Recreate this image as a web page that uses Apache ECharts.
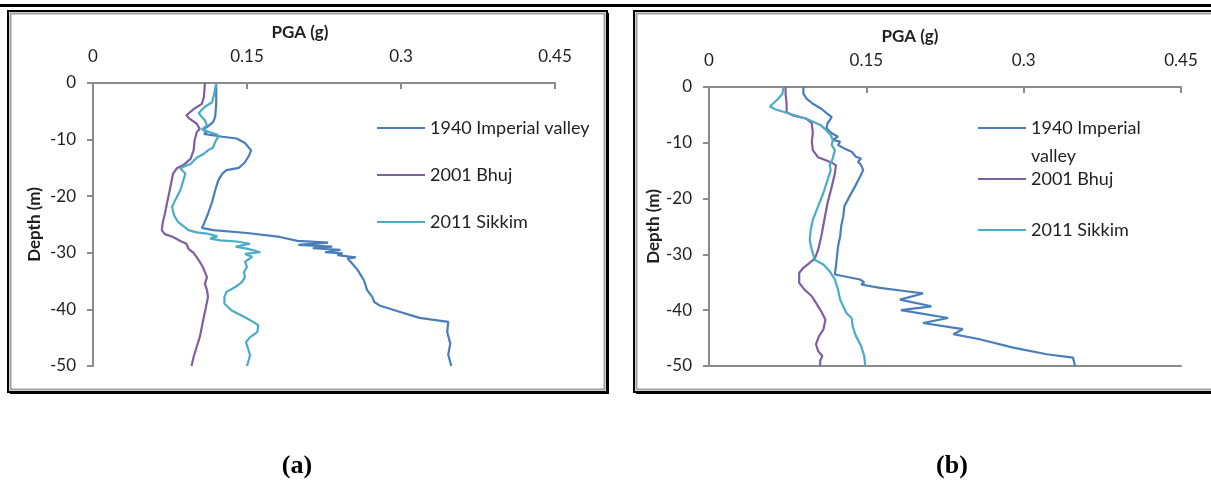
<!DOCTYPE html>
<html>
<head>
<meta charset="utf-8">
<script src="https://cdn.jsdelivr.net/npm/echarts@6/dist/echarts.min.js"></script>
<style>
  html, body { margin: 0; padding: 0; background: #ffffff; }
  #chart { width: 1211px; height: 484px; }
</style>
</head>
<body>
<div id="chart"></div>
<script>
// Ground motions and axis settings
const seriesNames = ['1940 Imperial valley', '2001 Bhuj', '2011 Sikkim'];
const seriesColors = ['#4a7ebb', '#7d60a0', '#4bacc6'];
const pgaTicks = [0, 0.15, 0.3, 0.45];
const depthTicks = [0, -10, -20, -30, -40, -50];
const panelLabels = ['(a)', '(b)'];

// Panel (a): [PGA (g), depth (m)]
const imperialA = [
  [0.120, 0], [0.120, -3.7], [0.119, -6.0], [0.117, -6.9], [0.111, -7.8], [0.107, -8.2],
  [0.111, -8.7], [0.108, -9.0], [0.116, -9.2], [0.126, -9.5], [0.140, -9.8], [0.148, -10.6],
  [0.154, -11.9], [0.152, -12.8], [0.148, -14.0], [0.142, -15.0], [0.130, -15.4], [0.126, -16.0],
  [0.122, -17.2], [0.119, -19.0], [0.116, -21.0], [0.112, -23.1], [0.108, -24.9], [0.106, -25.6],
  [0.117, -26.0], [0.150, -26.5], [0.182, -27.2], [0.199, -27.9], [0.229, -28.2], [0.200, -28.6],
  [0.233, -28.9], [0.214, -29.2], [0.241, -29.5], [0.226, -29.9], [0.243, -30.1], [0.238, -30.4],
  [0.256, -30.8], [0.248, -31.0], [0.252, -31.8], [0.258, -33.1], [0.264, -34.9], [0.267, -36.6],
  [0.272, -37.8], [0.274, -38.7], [0.279, -39.3], [0.300, -40.5], [0.318, -41.5], [0.346, -42.2],
  [0.345, -44.0], [0.348, -46.0], [0.346, -48.0], [0.349, -50]
];
const bhujA = [
  [0.109, 0], [0.108, -2.5], [0.106, -3.7], [0.099, -4.5], [0.091, -5.7], [0.094, -6.3],
  [0.101, -7.2], [0.104, -8.1], [0.101, -8.7], [0.099, -10.1], [0.098, -11.9], [0.095, -13.4],
  [0.088, -14.5], [0.082, -15.0], [0.078, -16.0], [0.076, -17.8], [0.074, -19.6], [0.072, -21.3],
  [0.070, -23.1], [0.068, -24.6], [0.067, -26.0], [0.070, -26.7], [0.078, -27.2], [0.085, -27.9],
  [0.091, -28.4], [0.093, -29.3], [0.098, -30.0], [0.103, -31.3], [0.107, -32.5], [0.109, -33.4],
  [0.111, -34.3], [0.109, -35.5], [0.111, -36.6], [0.112, -37.8], [0.110, -39.6], [0.108, -41.3],
  [0.106, -43.1], [0.104, -44.9], [0.101, -46.6], [0.098, -48.4], [0.096, -50]
];
const sikkimA = [
  [0.120, 0], [0.118, -1.9], [0.116, -3.4], [0.109, -4.2], [0.103, -5.3], [0.106, -6.0],
  [0.109, -6.6], [0.111, -7.5], [0.106, -8.2], [0.114, -8.7], [0.121, -9.1], [0.122, -9.5],
  [0.119, -10.4], [0.117, -11.4], [0.112, -11.9], [0.108, -12.5], [0.101, -13.2], [0.095, -14.3],
  [0.088, -14.8], [0.085, -15.1], [0.090, -16.0], [0.088, -17.2], [0.085, -19.0], [0.080, -20.7],
  [0.077, -21.9], [0.079, -23.4], [0.083, -24.6], [0.088, -25.3], [0.093, -26.0], [0.101, -26.4],
  [0.111, -26.6], [0.121, -27.1], [0.114, -27.5], [0.124, -27.8], [0.140, -28.0], [0.153, -28.4],
  [0.139, -28.9], [0.151, -29.3], [0.163, -29.9], [0.148, -30.2], [0.155, -30.7], [0.148, -31.6],
  [0.150, -32.5], [0.147, -33.4], [0.148, -34.3], [0.145, -35.2], [0.139, -36.0], [0.130, -36.9],
  [0.128, -37.8], [0.128, -39.0], [0.135, -40.2], [0.147, -41.3], [0.156, -42.2], [0.161, -42.8],
  [0.160, -44.0], [0.153, -44.9], [0.149, -45.8], [0.151, -46.9], [0.153, -48.1], [0.150, -50]
];

// Panel (b): [PGA (g), depth (m)]
const imperialB = [
  [0.090, 0], [0.090, -1.2], [0.093, -2.1], [0.099, -3.0], [0.107, -3.9], [0.113, -4.8],
  [0.117, -5.4], [0.113, -6.5], [0.112, -7.4], [0.117, -8.3], [0.123, -8.9], [0.118, -9.5],
  [0.125, -9.8], [0.123, -10.4], [0.129, -11.0], [0.136, -11.6], [0.140, -12.5], [0.145, -12.8],
  [0.142, -13.4], [0.145, -14.0], [0.147, -14.9], [0.144, -16.1], [0.139, -17.9], [0.134, -19.6],
  [0.129, -21.4], [0.128, -23.2], [0.126, -25.0], [0.125, -26.8], [0.123, -28.6], [0.122, -30.4],
  [0.121, -32.1], [0.120, -33.6], [0.144, -34.5], [0.148, -35.0], [0.145, -35.4], [0.163, -36.0],
  [0.188, -36.6], [0.204, -37.0], [0.182, -38.1], [0.212, -39.3], [0.183, -40.0], [0.228, -41.4],
  [0.204, -42.3], [0.242, -43.4], [0.233, -44.3], [0.258, -45.2], [0.290, -46.7], [0.322, -47.9],
  [0.347, -48.5], [0.349, -50]
];
const bhujB = [
  [0.073, 0], [0.073, -1.2], [0.074, -3.0], [0.074, -4.5], [0.080, -5.1], [0.093, -5.7],
  [0.098, -6.5], [0.099, -8.3], [0.098, -9.8], [0.099, -11.3], [0.104, -12.6], [0.115, -13.4],
  [0.121, -14.0], [0.120, -15.5], [0.117, -17.9], [0.113, -20.8], [0.110, -23.8], [0.107, -26.8],
  [0.104, -29.2], [0.101, -30.7], [0.096, -31.5], [0.090, -32.4], [0.086, -33.3], [0.086, -35.1],
  [0.091, -36.3], [0.098, -37.5], [0.102, -38.7], [0.107, -40.2], [0.111, -41.7], [0.109, -43.5],
  [0.105, -44.6], [0.102, -46.1], [0.104, -47.3], [0.108, -48.2], [0.106, -49.1], [0.106, -50]
];
const sikkimB = [
  [0.071, 0], [0.070, -1.2], [0.066, -2.1], [0.058, -3.5], [0.063, -4.0], [0.077, -4.8],
  [0.093, -5.7], [0.106, -6.8], [0.111, -7.6], [0.116, -8.6], [0.118, -9.5], [0.117, -10.4],
  [0.120, -11.3], [0.118, -12.8], [0.115, -14.0], [0.116, -14.9], [0.113, -16.7], [0.109, -19.0],
  [0.104, -21.4], [0.099, -23.8], [0.097, -25.6], [0.096, -27.4], [0.098, -29.2], [0.101, -31.0],
  [0.109, -31.8], [0.115, -33.0], [0.120, -34.5], [0.123, -36.3], [0.125, -38.1], [0.128, -39.3],
  [0.131, -40.5], [0.136, -41.4], [0.137, -42.9], [0.140, -44.6], [0.145, -46.4], [0.148, -48.2],
  [0.149, -50]
];

const FONT = 'Lato, "Open Sans", sans-serif';
const AXIS_GRAY = '#8a8a8a';
const TEXT = '#1f1f1f';

function pgaAxis(gridIndex, namePadRight) {
  return {
    type: 'value', gridIndex, position: 'top',
    min: pgaTicks[0], max: pgaTicks[pgaTicks.length - 1], interval: pgaTicks[1] - pgaTicks[0],
    name: 'PGA (g)', nameLocation: 'middle', nameGap: 42,
    nameTextStyle: { fontFamily: FONT, fontSize: 17, fontWeight: 'bold', color: TEXT, padding: [0, namePadRight, 0, 0] },
    axisLine: { show: true, onZero: false, lineStyle: { color: AXIS_GRAY, width: 2 } },
    axisTick: { show: true, inside: true, length: 6, lineStyle: { color: AXIS_GRAY, width: 2 } },
    axisLabel: { fontFamily: FONT, fontSize: 17, color: TEXT, margin: 18,
      formatter: v => String(+v.toFixed(2)) },
    splitLine: { show: false }
  };
}

function depthAxis(gridIndex, nameGap) {
  return {
    type: 'value', gridIndex,
    min: depthTicks[depthTicks.length - 1], max: depthTicks[0], interval: depthTicks[0] - depthTicks[1],
    name: 'Depth (m)', nameLocation: 'middle', nameGap,
    nameTextStyle: { fontFamily: FONT, fontSize: 17, fontWeight: 'bold', color: TEXT },
    axisLine: { show: true, onZero: false, lineStyle: { color: AXIS_GRAY, width: 2 } },
    axisTick: { show: true, length: 6, lineStyle: { color: AXIS_GRAY, width: 2 } },
    axisLabel: { fontFamily: FONT, fontSize: 17, color: TEXT, margin: 17 },
    splitLine: { show: false }
  };
}

function lineSeries(name, idx, data, axisIdx) {
  return {
    name, type: 'line', data,
    xAxisIndex: axisIdx, yAxisIndex: axisIdx,
    symbol: 'none', showSymbol: false, smooth: false,
    lineStyle: { color: seriesColors[idx], width: 2.2 },
    itemStyle: { color: seriesColors[idx] },
    emphasis: { disabled: true }, silent: true
  };
}

// one legend per entry so each row sits at its own height; a flat bar as the key
function legendItem(name, left, centerY, text) {
  return {
    data: [name], orient: 'vertical', left, top: centerY - 10, padding: 0,
    icon: 'rect', itemWidth: 48, itemHeight: 2, itemGap: 0, selectedMode: false,
    formatter: text ? () => text : undefined,
    textStyle: { fontFamily: FONT, fontSize: 18, color: TEXT }
  };
}

const chart = echarts.init(document.getElementById('chart'), null, { renderer: 'canvas' });

chart.setOption({
  animation: false,
  backgroundColor: '#ffffff',
  grid: [
    { left: 93, top: 83, width: 462, height: 283 },
    { left: 709, top: 87, width: 472, height: 279 }
  ],
  xAxis: [
    pgaAxis(0, 48),
    pgaAxis(1, 70),
    {
      type: 'value', gridIndex: 1, position: 'bottom',
      min: pgaTicks[0], max: pgaTicks[pgaTicks.length - 1], interval: pgaTicks[1] - pgaTicks[0],
      axisLine: { show: true, onZero: false, lineStyle: { color: AXIS_GRAY, width: 2 } },
      axisTick: { show: false }, axisLabel: { show: false }, splitLine: { show: false }
    }
  ],
  yAxis: [depthAxis(0, 50), depthAxis(1, 46)],
  legend: [
    legendItem(seriesNames[0], 377, 129),
    legendItem(seriesNames[1], 377, 176),
    legendItem(seriesNames[2], 377, 223),
    legendItem(seriesNames[0], 978, 129, '1940 Imperial'),
    legendItem(seriesNames[1], 978, 180),
    legendItem(seriesNames[2], 978, 231)
  ],
  series: [
    lineSeries(seriesNames[0], 0, imperialA, 0),
    lineSeries(seriesNames[1], 1, bhujA, 0),
    lineSeries(seriesNames[2], 2, sikkimA, 0),
    lineSeries(seriesNames[0], 0, imperialB, 1),
    lineSeries(seriesNames[1], 1, bhujB, 1),
    lineSeries(seriesNames[2], 2, sikkimB, 1)
  ],
  graphic: [
    // rule across the top of the figure
    { type: 'rect', shape: { x: 0, y: 4, width: 1211, height: 3 }, style: { fill: '#000' }, silent: true },
    // chart frame (a): black outline, grey inner border, dark shadow right/bottom
    { type: 'rect', shape: { x: 8, y: 11, width: 599, height: 381 }, style: { fill: 'none', stroke: '#000', lineWidth: 2 }, silent: true },
    { type: 'rect', shape: { x: 10.5, y: 13.5, width: 594, height: 376 }, style: { fill: 'none', stroke: '#a0a0a0', lineWidth: 2 }, silent: true },
    { type: 'line', shape: { x1: 608, y1: 13, x2: 608, y2: 393 }, style: { stroke: '#000', lineWidth: 2 }, silent: true },
    { type: 'line', shape: { x1: 10, y1: 393, x2: 609, y2: 393 }, style: { stroke: '#000', lineWidth: 2 }, silent: true },
    // chart frame (b)
    { type: 'rect', shape: { x: 634, y: 11, width: 590, height: 381 }, style: { fill: 'none', stroke: '#000', lineWidth: 2 }, silent: true },
    { type: 'rect', shape: { x: 636.5, y: 13.5, width: 590, height: 376 }, style: { fill: 'none', stroke: '#a0a0a0', lineWidth: 2 }, silent: true },
    { type: 'line', shape: { x1: 636, y1: 393, x2: 1211, y2: 393 }, style: { stroke: '#000', lineWidth: 2 }, silent: true },
    // wrapped second line of the first legend entry in (b)
    { type: 'text', x: 1031, y: 156, style: { text: 'valley', font: '18px ' + FONT, fill: TEXT, verticalAlign: 'middle', align: 'left' }, silent: true },
    // panel captions
    { type: 'text', x: 297, y: 466, style: { text: panelLabels[0], font: 'bold 26px "Liberation Serif", "Times New Roman", serif', fill: '#000', align: 'center', verticalAlign: 'middle' }, silent: true },
    { type: 'text', x: 952, y: 466, style: { text: panelLabels[1], font: 'bold 26px "Liberation Serif", "Times New Roman", serif', fill: '#000', align: 'center', verticalAlign: 'middle' }, silent: true }
  ]
});
</script>
</body>
</html>
